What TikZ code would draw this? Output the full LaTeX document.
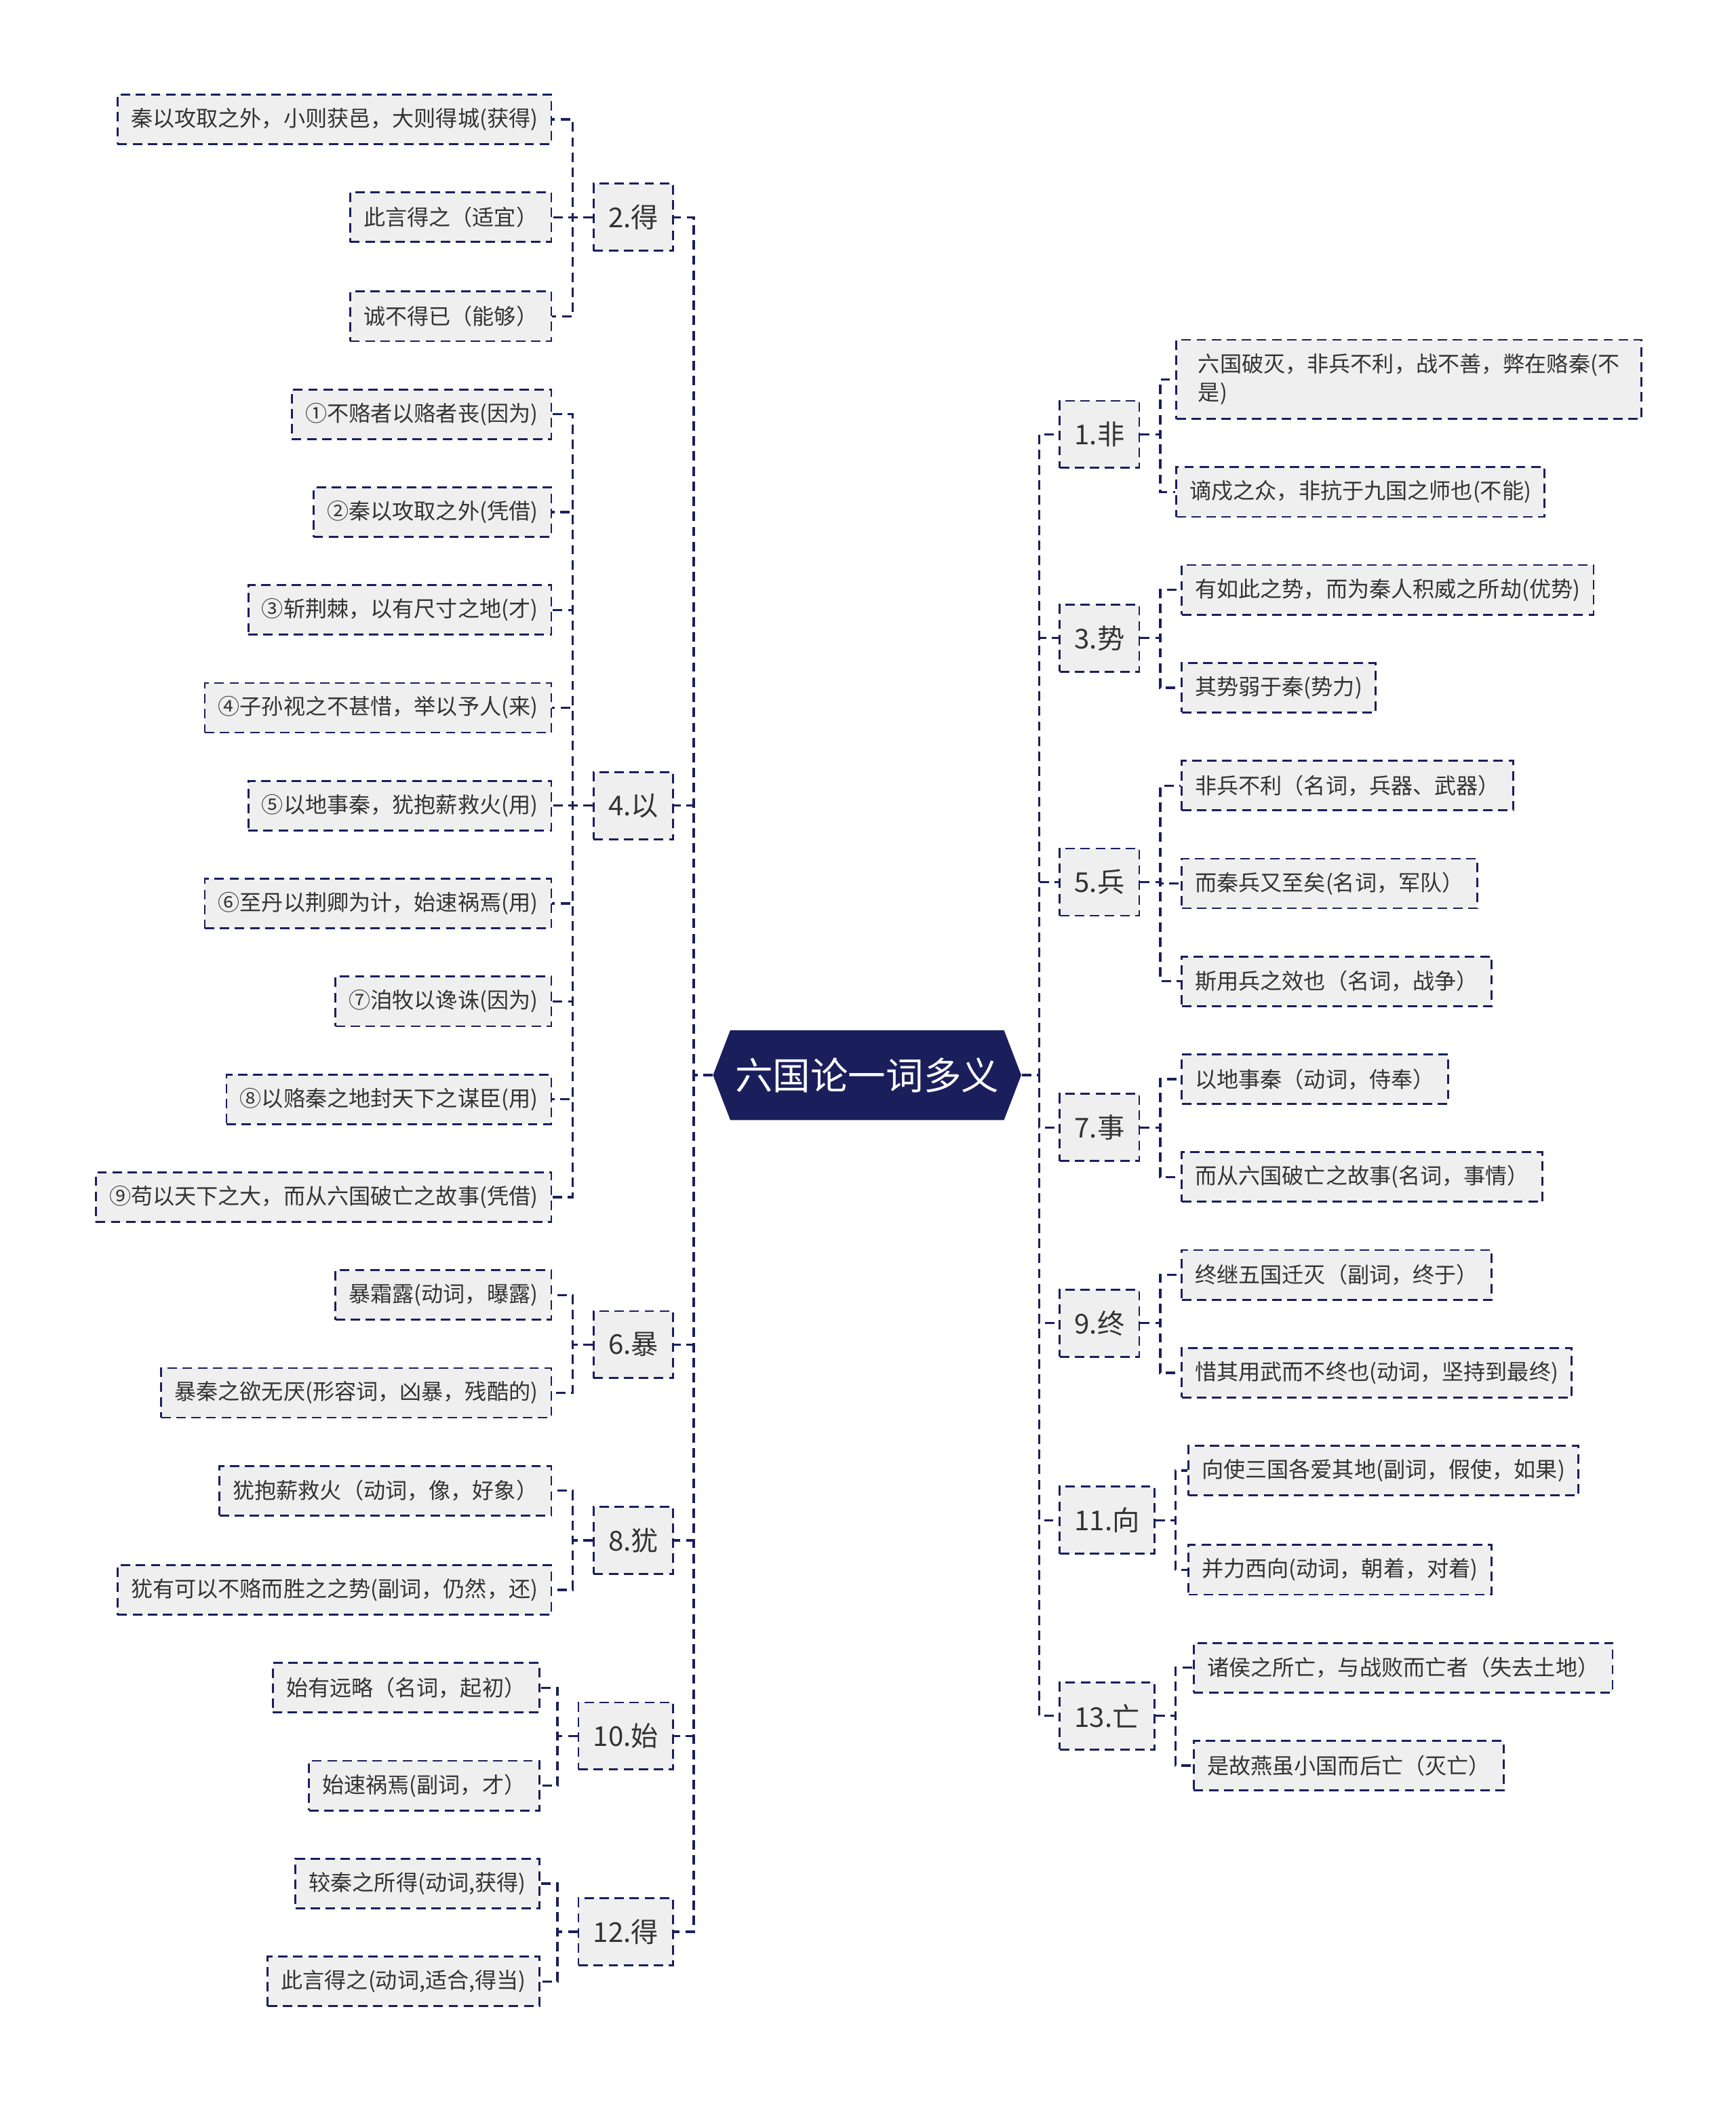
\documentclass[tikz,border=0pt]{standalone}
\usepackage{fontspec}
\setmainfont{Noto Sans CJK SC}
\usetikzlibrary{shapes.symbols, positioning}
\definecolor{cNavy}{RGB}{26,31,92}
\definecolor{cBox}{RGB}{239,239,239}
\definecolor{cText}{RGB}{51,51,51}
\tikzset{
	root/.style ={signal, signal to=west and east, signal pointer angle=138, fill=cNavy, text=white, minimum width=4.6cm, minimum height=1.34cm, inner sep=0pt, font=\fontsize{16}{18}\selectfont},
	topic/.style={rectangle, draw=cNavy, line width=0.8pt, dash pattern=on 4pt off 2.4pt, fill=cBox, text=cText, minimum height=1cm, inner xsep=0.22cm, font=\fontsize{11.6}{14}\selectfont},
	leaf/.style ={rectangle, draw=cNavy, line width=0.8pt, dash pattern=on 4pt off 2.4pt, fill=cBox, text=cText, minimum height=0.74cm, inner xsep=0.2cm, align=left, font=\fontsize{9.25}{12}\selectfont},
	link/.style ={draw=cNavy, line width=0.95pt, dash pattern=on 4pt off 2.4pt},
}
\begin{document}
\begin{tikzpicture}[x=0.02cm, y=-0.02cm]
	\useasboundingbox (0,0) rectangle (1295,1568);
	\node[root] (hub) at (647,802) {六国论一词多义};
	% left branches
	\foreach \nm/\y/\t in {k2/162/2.得, k4/601/4.以, k6/1003/6.暴, k8/1149/8.犹, k10/1295/10.始, k12/1441/12.得} {
		\node[topic, anchor=east] (\nm) at (503,\y) {\t};
		\draw[link] (hub.west) -- ++(-14,0) |- (\nm.east);
	}
	% right branches
	\foreach \nm/\y/\t in {k1/324/1.非, k3/476/3.势, k5/658/5.兵, k7/841/7.事, k9/987/9.终, k11/1134/11.向, k13/1280/13.亡} {
		\node[topic, anchor=west] (\nm) at (790,\y) {\t};
		\draw[link] (hub.east) -- ++(13,0) |- (\nm.west);
	}
	% leaves, left side
	\foreach \y/\t [count=\i] in {89/秦以攻取之外，小则获邑，大则得城(获得), 162/此言得之（适宜）, 236/诚不得已（能够）} {
		\node[leaf, anchor=east] (k2-\i) at (412,\y) {\t};
		\draw[link] (k2.west) -- ++(-15,0) |- (k2-\i.east);
	}
	\foreach \y/\t [count=\i] in {309/①不赂者以赂者丧(因为), 382/②秦以攻取之外(凭借), 455/③斩荆棘，以有尺寸之地(才), 528/④子孙视之不甚惜，举以予人(来), 601/⑤以地事秦，犹抱薪救火(用), 674/⑥至丹以荆卿为计，始速祸焉(用), 747/⑦洎牧以谗诛(因为), 820/⑧以赂秦之地封天下之谋臣(用), 893/⑨苟以天下之大，而从六国破亡之故事(凭借)} {
		\node[leaf, anchor=east] (k4-\i) at (412,\y) {\t};
		\draw[link] (k4.west) -- ++(-15,0) |- (k4-\i.east);
	}
	\foreach \y/\t [count=\i] in {966/暴霜露(动词，曝露), 1039/暴秦之欲无厌(形容词，凶暴，残酷的)} {
		\node[leaf, anchor=east] (k6-\i) at (412,\y) {\t};
		\draw[link] (k6.west) -- ++(-15,0) |- (k6-\i.east);
	}
	\foreach \y/\t [count=\i] in {1112/犹抱薪救火（动词，像，好象）, 1186/犹有可以不赂而胜之之势(副词，仍然，还)} {
		\node[leaf, anchor=east] (k8-\i) at (412,\y) {\t};
		\draw[link] (k8.west) -- ++(-15,0) |- (k8-\i.east);
	}
	\foreach \y/\t [count=\i] in {1259/始有远略（名词，起初）, 1332/始速祸焉(副词，才）} {
		\node[leaf, anchor=east] (k10-\i) at (403,\y) {\t};
		\draw[link] (k10.west) -- ++(-15,0) |- (k10-\i.east);
	}
	\foreach \y/\t [count=\i] in {1405/{较秦之所得(动词,获得)}, 1478/{此言得之(动词,适合,得当)}} {
		\node[leaf, anchor=east] (k12-\i) at (403,\y) {\t};
		\draw[link] (k12.west) -- ++(-15,0) |- (k12-\i.east);
	}
	% leaves, right side
	\node[leaf, anchor=west, inner ysep=6pt, minimum width=6.94cm] (k1-1) at (877,283) {六国破灭，非兵不利，战不善，弊在赂秦(不\\是)};
	\node[leaf, anchor=west] (k1-2) at (877,367) {谪戍之众，非抗于九国之师也(不能)};
	\foreach \i in {1,2} {
		\draw[link] (k1.east) -- ++(15,0) |- (k1-\i.west);
	}
	\foreach \y/\t [count=\i] in {440/有如此之势，而为秦人积威之所劫(优势), 513/其势弱于秦(势力)} {
		\node[leaf, anchor=west] (k3-\i) at (881,\y) {\t};
		\draw[link] (k3.east) -- ++(15,0) |- (k3-\i.west);
	}
	\foreach \y/\t [count=\i] in {586/非兵不利（名词，兵器、武器）, 659/而秦兵又至矣(名词，军队）, 732/斯用兵之效也（名词，战争）} {
		\node[leaf, anchor=west] (k5-\i) at (881,\y) {\t};
		\draw[link] (k5.east) -- ++(15,0) |- (k5-\i.west);
	}
	\foreach \y/\t [count=\i] in {805/以地事秦（动词，侍奉）, 878/而从六国破亡之故事(名词，事情）} {
		\node[leaf, anchor=west] (k7-\i) at (881,\y) {\t};
		\draw[link] (k7.east) -- ++(15,0) |- (k7-\i.west);
	}
	\foreach \y/\t [count=\i] in {951/终继五国迁灭（副词，终于）, 1024/惜其用武而不终也(动词，坚持到最终)} {
		\node[leaf, anchor=west] (k9-\i) at (881,\y) {\t};
		\draw[link] (k9.east) -- ++(15,0) |- (k9-\i.west);
	}
	\foreach \y/\t [count=\i] in {1097/向使三国各爱其地(副词，假使，如果), 1171/并力西向(动词，朝着，对着)} {
		\node[leaf, anchor=west] (k11-\i) at (886,\y) {\t};
		\draw[link] (k11.east) -- ++(15,0) |- (k11-\i.west);
	}
	\foreach \y/\t [count=\i] in {1244/诸侯之所亡，与战败而亡者（失去土地）, 1317/是故燕虽小国而后亡（灭亡）} {
		\node[leaf, anchor=west] (k13-\i) at (890,\y) {\t};
		\draw[link] (k13.east) -- ++(15,0) |- (k13-\i.west);
	}
\end{tikzpicture}
\end{document}
